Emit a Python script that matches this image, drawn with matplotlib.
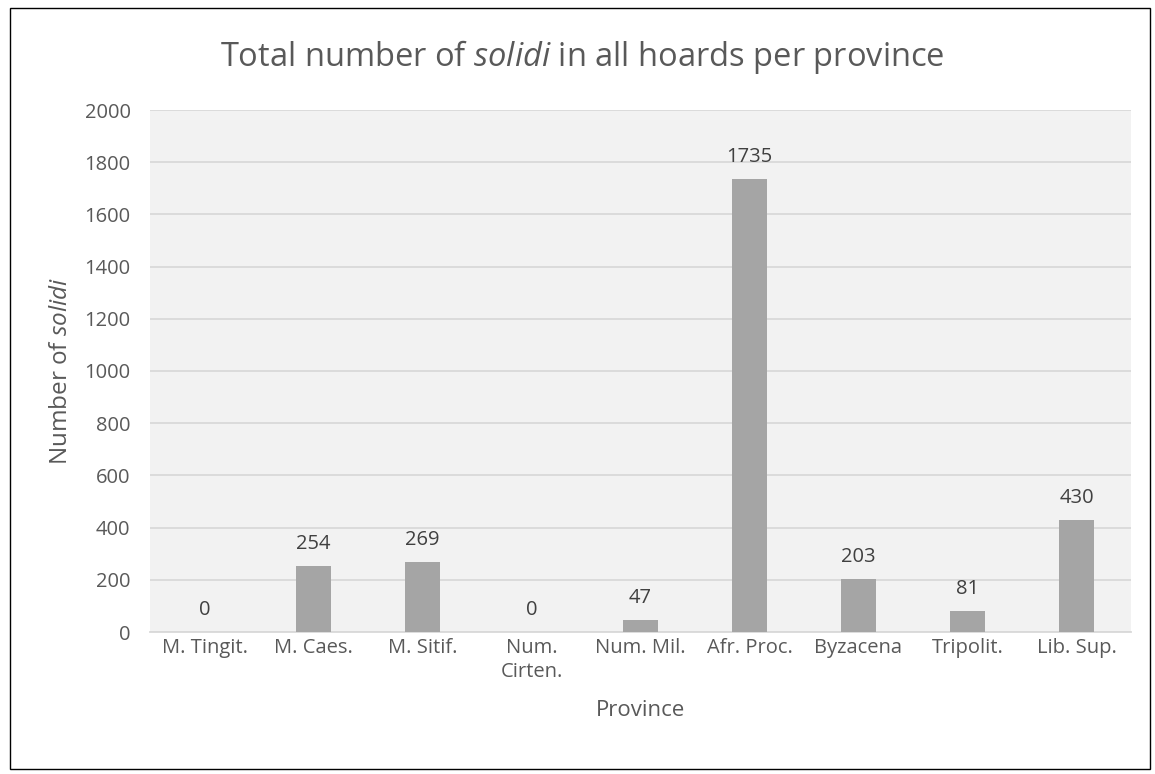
import matplotlib
matplotlib.use("Agg")
import matplotlib.pyplot as plt
from matplotlib.patches import Rectangle

provinces = ["M. Tingit.", "M. Caes.", "M. Sitif.", "Num.\nCirten.", "Num. Mil.",
             "Afr. Proc.", "Byzacena", "Tripolit.", "Lib. Sup."]
solidi = [0, 254, 269, 0, 47, 1735, 203, 81, 430]
yticks = [0, 200, 400, 600, 800, 1000, 1200, 1400, 1600, 1800, 2000]

plt.rcParams['font.family'] = ['Open Sans', 'DejaVu Sans']
plt.rcParams['mathtext.fontset'] = 'custom'
plt.rcParams['mathtext.rm'] = 'Open Sans'
plt.rcParams['mathtext.it'] = 'Open Sans:italic'

text_col = '#595959'
fig = plt.figure(figsize=(11.55, 7.74), dpi=100)
ax = fig.add_axes([150 / 1155, 1 - 632 / 774, (1131 - 150) / 1155, (632 - 110) / 774])
ax.set_facecolor('#F2F2F2')

x = list(range(len(provinces)))
ax.bar(x, solidi, width=0.32, color='#A5A5A5', zorder=3)
for xi, v in zip(x, solidi):
    ax.annotate(str(v), (xi, v), xytext=(0, 8.5), textcoords='offset points',
                ha='center', va='bottom', fontsize=14.5, color='#404040')

ax.set_xlim(-0.5, len(provinces) - 0.5)
ax.set_ylim(0, 2000)
ax.set_yticks(yticks)
ax.set_yticklabels([str(t) for t in yticks], fontsize=14.5, color=text_col)
ax.set_xticks(x)
ax.set_xticklabels(provinces, fontsize=14.5, color=text_col, linespacing=1.3, va='top')
ax.tick_params(axis='both', length=0)
ax.tick_params(axis='x', pad=4)
ax.tick_params(axis='y', pad=14)
ax.grid(axis='y', color='#D9D9D9', linewidth=1.3, zorder=0)
for s in ['top', 'right', 'left']:
    ax.spines[s].set_visible(False)
ax.spines['bottom'].set_color('#D9D9D9')
ax.spines['bottom'].set_linewidth(1.3)

ax.set_xlabel('Province', fontsize=16, color=text_col, labelpad=13)
ax.set_ylabel(r'Number of $solidi$', fontsize=17.5, color=text_col, labelpad=8)
fig.text(0.504, 1 - 57 / 774, r'Total number of $solidi$ in all hoards per province',
         ha='center', va='center', fontsize=23.5, color=text_col)

fig.patches.append(Rectangle((0.009, 0.006), 0.987, 0.984, transform=fig.transFigure,
                             fill=False, edgecolor='black', linewidth=1))
fig.savefig('out.png', dpi=100)
